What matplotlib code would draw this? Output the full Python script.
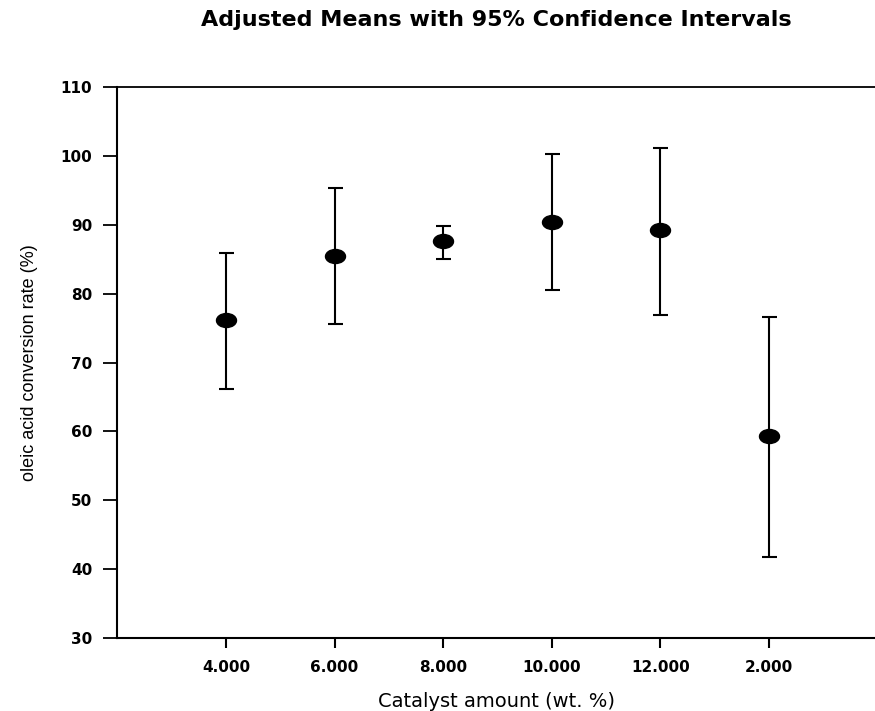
import matplotlib
matplotlib.use("Agg")
import matplotlib.pyplot as plt
from matplotlib.path import Path
import numpy as np

categories = ["4.000", "6.000", "8.000", "10.000", "12.000", "2.000"]
means = [76.2, 85.5, 87.6, 90.5, 89.2, 59.3]
upper = [86.0, 95.3, 89.9, 100.3, 101.2, 76.6]
lower = [66.2, 75.6, 85.1, 80.6, 76.9, 41.7]
yticks = [30, 40, 50, 60, 70, 80, 90, 100, 110]

fig = plt.figure(figsize=(8.75, 7.11), dpi=100)
ax = fig.add_axes([0.1341, 0.1027, 0.8665, 0.7745])

# ellipse marker
circ = Path.unit_circle()
ell = Path(circ.vertices * np.array([1.0, 0.7]), circ.codes)

x = np.arange(1, len(categories) + 1)
m = np.array(means)
yerr = np.vstack([m - np.array(lower), np.array(upper) - m])
ax.errorbar(x, m, yerr=yerr, fmt="none", ecolor="black", elinewidth=1.5,
            capsize=5.4, capthick=1.5, zorder=2)
ax.plot(x, m, linestyle="none", marker=ell, markersize=14.4,
        color="black", zorder=3)

ax.set_xlim(0, 6.98)
ax.set_ylim(30, 110)
ax.set_yticks(yticks)
ax.set_xticks(x)
ax.set_xticklabels(categories)

for sp in ["left", "bottom"]:
    ax.spines[sp].set_linewidth(1.5)
ax.spines["top"].set_linewidth(1.3)
ax.spines["right"].set_visible(False)

ax.tick_params(axis="y", direction="out", length=10, width=1.3, pad=8)
ax.tick_params(axis="x", direction="out", length=7, width=1.5, pad=9)
for lab in ax.get_yticklabels() + ax.get_xticklabels():
    lab.set_fontfamily(["DejaVu Sans"])
    lab.set_fontweight("bold")
    lab.set_fontsize(11)

ax.set_ylabel("oleic acid conversion rate (%)",
              family=["Liberation Sans", "DejaVu Sans"], fontsize=13)
ax.yaxis.set_label_coords(-0.105, 0.5)
ax.set_xlabel("Catalyst amount (wt. %)",
              family=["DejaVu Sans"], fontsize=14, labelpad=12)

fig.text(0.5677, 0.972, "Adjusted Means with 95% Confidence Intervals",
         ha="center", va="center", fontsize=16, fontweight="bold",
         family=["DejaVu Sans"])

fig.savefig("out.png", dpi=100)
